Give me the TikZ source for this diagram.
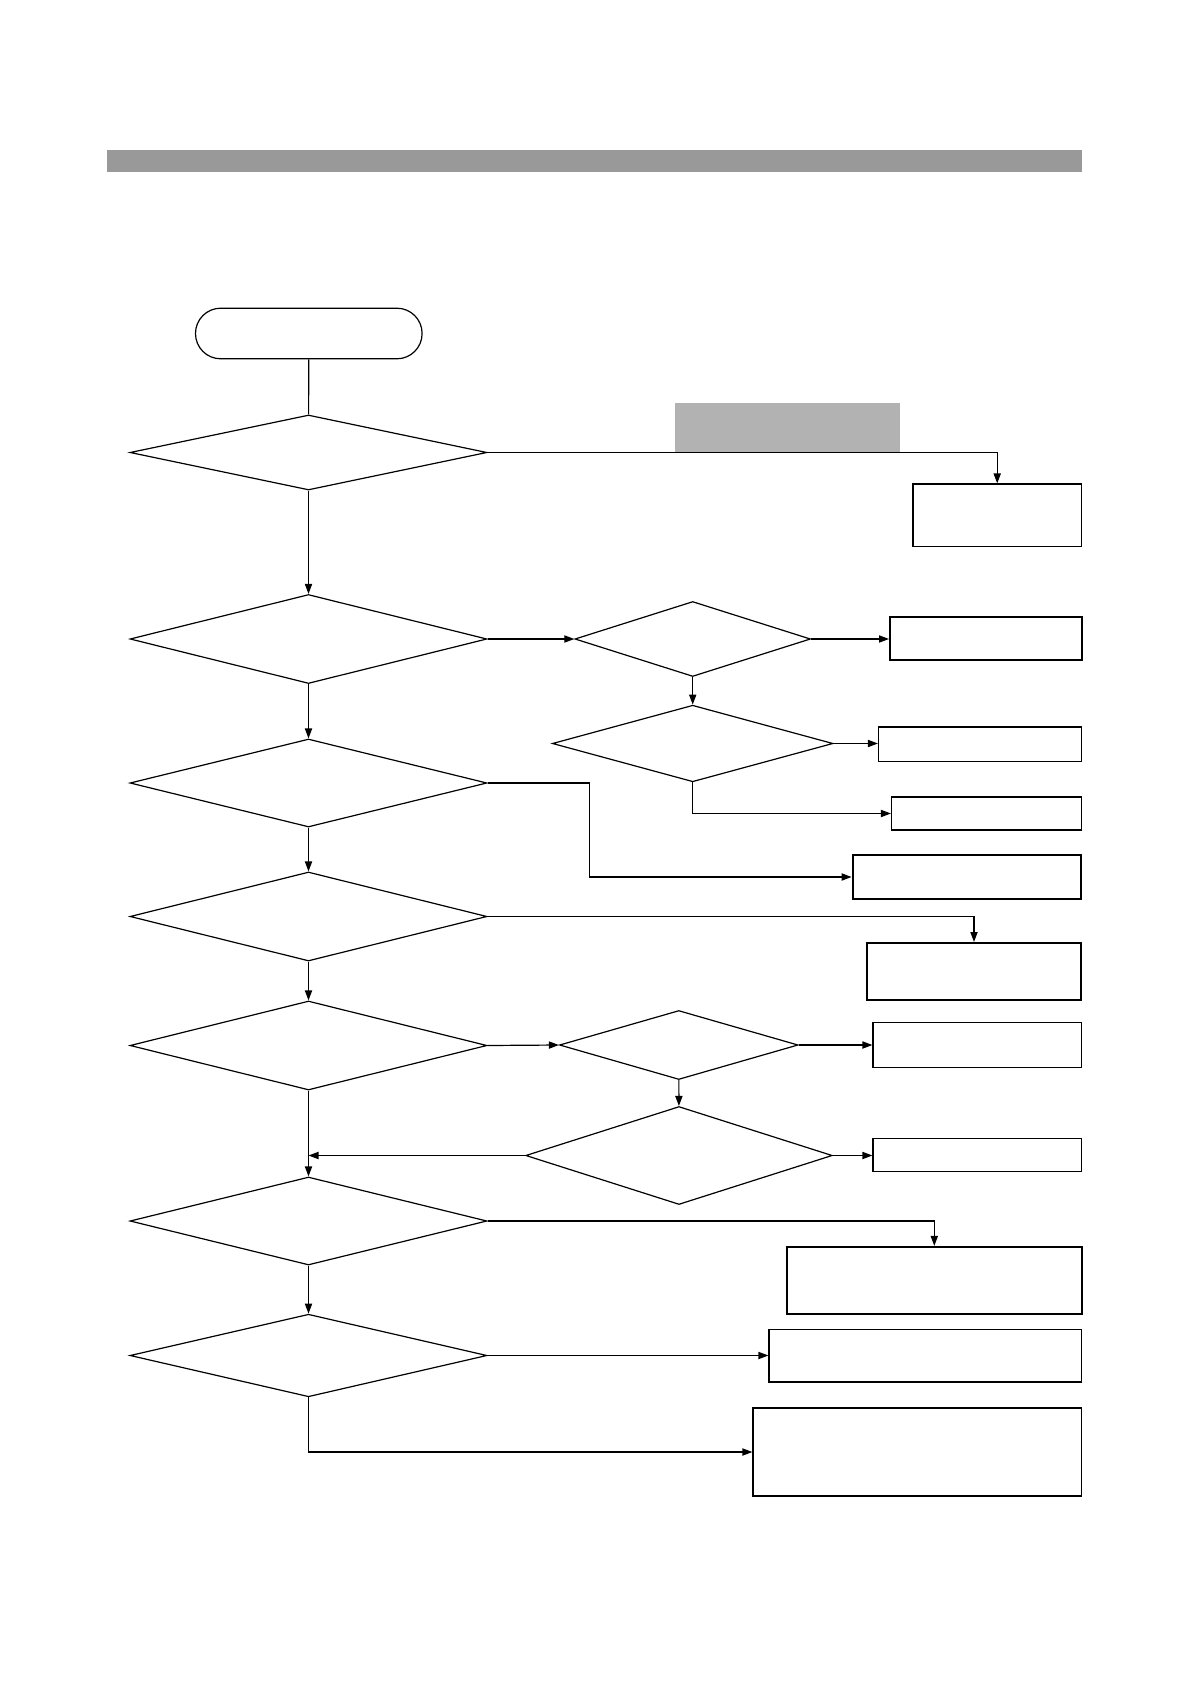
\documentclass[tikz,border=0pt]{standalone}
\usepackage{tikz}
\usetikzlibrary{shapes.geometric,arrows.meta}
\definecolor{bargray}{RGB}{153,153,153}
\definecolor{tabgray}{RGB}{178,178,178}

\begin{document}
\begin{tikzpicture}[x=0.5pt, y=-0.5pt, line width=0.6pt,
  >={Triangle[length=5pt,width=3.6pt]},
  startstop/.style={draw, rectangle, rounded corners=12.6pt, inner sep=0pt},
  decision/.style={draw, diamond, inner sep=0pt},
  box/.style={draw, rectangle, inner sep=0pt},
  boxthick/.style={box, line width=1pt}]
\useasboundingbox (0,0) rectangle (1190,1684);

% Header bar
\fill[bargray] (107.4,150.4) rectangle (1081.5,171.8);
\fill[tabgray] (674.5,402.8) rectangle (900,452);

% Main column
\node[startstop, minimum width=113.3pt, minimum height=25.3pt] (start) at (308.8,333.5) {};
\node[decision, minimum width=178.5pt, minimum height=37.5pt] (d1) at (308.5,452.5) {};
\node[decision, minimum width=178.5pt, minimum height=44.5pt] (d2) at (308.5,639) {};
\node[decision, minimum width=178.5pt, minimum height=44pt] (d5) at (308.5,783) {};
\node[decision, minimum width=178.5pt, minimum height=44.5pt] (d6) at (308.5,916.5) {};
\node[decision, minimum width=178.5pt, minimum height=44.5pt] (d7) at (308.5,1045.5) {};
\node[decision, minimum width=178.5pt, minimum height=44pt] (d10) at (308.5,1221) {};
\node[decision, minimum width=178.5pt, minimum height=41.3pt] (d11) at (308.5,1355.5) {};

% Side decisions
\node[decision, minimum width=117.8pt, minimum height=37.5pt] (d3) at (692.7,639) {};
\node[decision, minimum width=140.3pt, minimum height=38.3pt] (d4) at (692.7,743.5) {};
\node[decision, minimum width=119.3pt, minimum height=34.5pt] (d8) at (678.8,1045) {};
\node[decision, minimum width=153.3pt, minimum height=49pt] (d9) at (679,1155.5) {};

% Result boxes
\node[box, minimum width=84.3pt, minimum height=31.4pt] (b1) at (997.2,515.4) {};
\node[boxthick, minimum width=95.8pt, minimum height=21.5pt] (b2) at (985.8,638) {};
\node[box, minimum width=101.5pt, minimum height=17.3pt] (b3) at (980,744.2) {};
\node[box, minimum width=95pt, minimum height=16.5pt] (b4) at (986.5,813.5) {};
\node[boxthick, minimum width=114.4pt, minimum height=22pt] (b5) at (967,877) {};
\node[boxthick, minimum width=107.4pt, minimum height=28.5pt] (b6) at (974,971.5) {};
\node[box, minimum width=104.3pt, minimum height=22.5pt] (b7) at (977.3,1045) {};
\node[box, minimum width=104.3pt, minimum height=16.7pt] (b8) at (977.3,1155) {};
\node[boxthick, minimum width=147.3pt, minimum height=33.3pt] (b9) at (934.3,1280.2) {};
\node[box, minimum width=156.3pt, minimum height=26.2pt] (b10) at (925.3,1355.8) {};
\node[box, minimum width=164.3pt, minimum height=44pt] (b11) at (917.3,1452) {};

% Trunk
\draw (start) -- (d1);
\draw[->] (d1) -- (d2);
\draw[->] (d2) -- (d5);
\draw[->] (d5) -- (d6);
\draw[->] (d6) -- (d7);
\draw[->] (d7) -- (d10);
\draw[->] (d10) -- (d11);

% Branches
\draw[->] (d1.east) -| (b1.north);
\draw[->] (d2.east) -- (d3.west);
\draw[->] (d3.east) -- (b2.west |- d3.east);
\draw[->] (d3) -- (d4);
\draw[->] (d4.east) -- (b3.west |- d4.east);
\draw[->] (d4.south) |- (b4.west);
\draw[->] (d5.east) -- ++(102,0) |- (b5.west);
\draw[->] (d6.east) -| (b6.north);
\draw[->] (d7.east) -- (d8.west);
\draw[->] (d8.east) -- (b7.west);
\draw[->] (d8) -- (d9);
\draw[->] (d9.east) -- (b8.west |- d9.east);
\draw[->] (d9.west) -- (d9.west -| d7.south);
\draw[->] (d10.east) -| (b9.north);
\draw[->] (d11.east) -- (b10.west |- d11.east);
\draw[->] (d11.south) |- (b11.west);

\end{tikzpicture}
\end{document}
